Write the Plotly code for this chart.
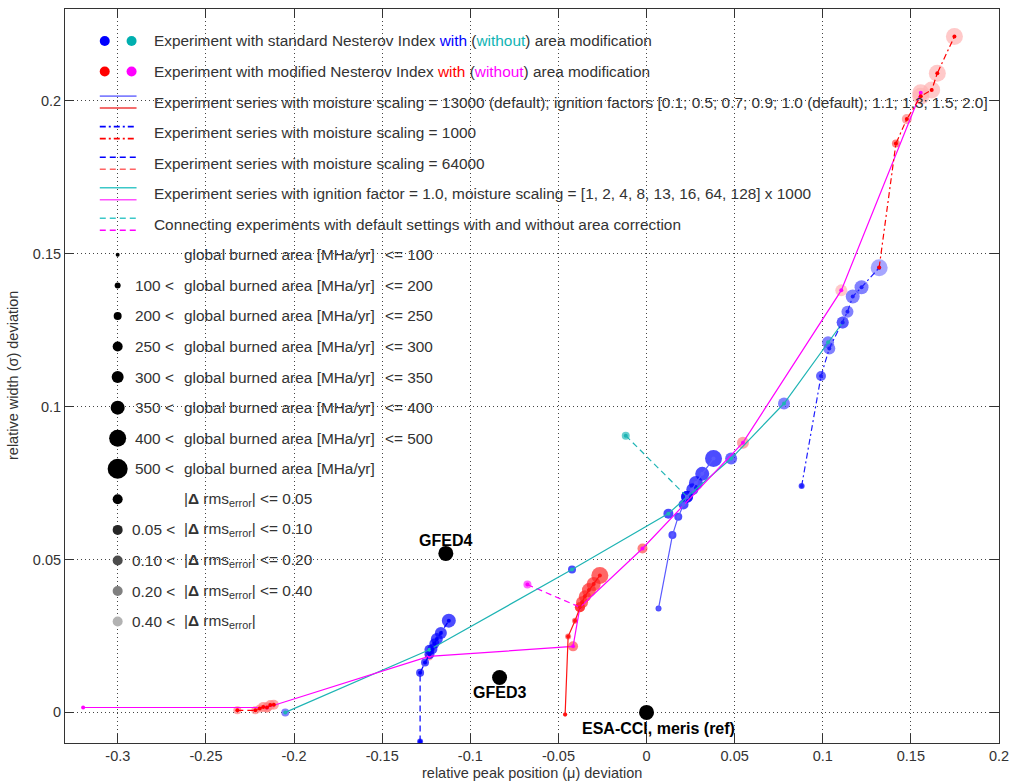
import plotly.graph_objects as go

# ---------------- data ----------------
# size category index -> global burned area class; shade index -> |delta rms_error| class
SIZE_PX = [4, 6, 8, 10, 12, 14, 17, 20]
SHADE_ALPHA = [1.0, 0.85, 0.7, 0.5, 0.3]

# standard Nesterov index, with area modification (blue)
blue_ms13_x = [0.0068, 0.0147, 0.018, 0.021, 0.023, 0.026, 0.028, 0.0316, 0.038]
blue_ms13_y = [0.034, 0.058, 0.064, 0.068, 0.0705, 0.073, 0.075, 0.078, 0.083]
blue_ms13_size = [1, 2, 2, 3, 4, 4, 5, 5, 6]
blue_ms13_shade = [0, 0, 0, 0, 0, 0, 0, 0, 0]

blue_ms1_x = [0.088, 0.099, 0.1037, 0.1113, 0.114, 0.117, 0.122, 0.132]
blue_ms1_y = [0.074, 0.110, 0.119, 0.1275, 0.131, 0.136, 0.139, 0.1454]
blue_ms1_size = [1, 3, 4, 4, 4, 5, 5, 6]
blue_ms1_shade = [0, 1, 2, 2, 2, 2, 2, 3]

blue_ms64_x = [-0.1285, -0.1285, -0.1257, -0.1232, -0.1215, -0.1204, -0.119, -0.1167, -0.1122]
blue_ms64_y = [-0.0095, 0.013, 0.0163, 0.019, 0.0207, 0.0225, 0.024, 0.026, 0.030]
blue_ms64_size = [1, 2, 2, 3, 3, 3, 4, 4, 5]
blue_ms64_shade = [0, 0, 0, 0, 0, 0, 0, 0, 0]

blue_ign1_x = [-0.205, -0.1232, -0.0423, 0.0124, 0.023, 0.048, 0.078, 0.103, 0.1113]
blue_ign1_y = [0.0, 0.0205, 0.0467, 0.065, 0.0705, 0.083, 0.101, 0.121, 0.1275]
blue_ign1_size = [2, 3, 2, 3, 4, 4, 4, 4, 4]
blue_ign1_shade = [2, 0, 0, 0, 0, 1, 2, 2, 2]

# modified Nesterov index, with area modification (red)
red_ms13_x = [-0.0462, -0.0445, -0.0406, -0.0378, -0.0366, -0.035, -0.0327, -0.030, -0.0265]
red_ms13_y = [-0.0007, 0.0248, 0.030, 0.0344, 0.036, 0.038, 0.040, 0.042, 0.0448]
red_ms13_size = [0, 1, 1, 3, 4, 4, 5, 5, 6]
red_ms13_shade = [1, 2, 2, 1, 1, 1, 1, 1, 1]

red_ms1_x = [0.132, 0.1415, 0.1477, 0.1556, 0.1618, 0.165, 0.1747]
red_ms1_y = [0.1455, 0.186, 0.194, 0.2015, 0.2035, 0.209, 0.221]
red_ms1_size = [0, 2, 3, 6, 6, 6, 6]
red_ms1_shade = [1, 2, 3, 4, 4, 4, 4]

red_ms64_x = [-0.2322, -0.222, -0.2195, -0.2175, -0.2154, -0.2135, -0.2115]
red_ms64_y = [0.0007, 0.0007, 0.0013, 0.0018, 0.0016, 0.0024, 0.0025]
red_ms64_size = [2, 2, 2, 3, 3, 3, 3]
red_ms64_shade = [3, 3, 3, 3, 3, 3, 3]

red_ign1_x = [-0.3197, -0.2154, -0.1235, -0.0417, -0.0378, -0.0023, 0.0547, 0.1105, 0.1556]
red_ign1_y = [0.0016, 0.0016, 0.0183, 0.0216, 0.0344, 0.0536, 0.0882, 0.138, 0.2026]
red_ign1_size = [None, 3, 2, 3, 3, 3, 4, 4, 6]
red_ign1_shade = [None, 3, 3, 2, 1, 2, 3, 4, 4]

# experiments without area modification (default settings)
cyan_x = [-0.0118]
cyan_y = [0.0905]
magenta_x = [-0.0676]
magenta_y = [0.0418]

# connecting default settings with/without area correction
conn_cyan_x = [-0.0118, 0.023]
conn_cyan_y = [0.0905, 0.0705]
conn_magenta_x = [-0.0676, -0.0378]
conn_magenta_y = [0.0418, 0.0344]

# reference data sets
ref_names = ["GFED4", "GFED3", "ESA-CCI, meris (ref)"]
ref_x = [-0.1139, -0.0834, 0.0]
ref_y = [0.052, 0.0114, 0.0]

x_ticks = [-0.3, -0.25, -0.2, -0.15, -0.1, -0.05, 0, 0.05, 0.1, 0.15, 0.2]
x_ticktext = ["-0.3", "-0.25", "-0.2", "-0.15", "-0.1", "-0.05", "0", "0.05", "0.1", "0.15", "0.2"]
y_ticks = [0, 0.05, 0.1, 0.15, 0.2]
y_ticktext = ["0", "0.05", "0.1", "0.15", "0.2"]

size_labels_left = ["", "100 <", "200 <", "250 <", "300 <", "350 <", "400 <", "500 <"]
size_labels_right = ["<= 100", "<= 200", "<= 250", "<= 300", "<= 350", "<= 400", "<= 500", ""]
rms_labels_left = ["", "0.05 <", "0.10 <", "0.20 <", "0.40 <"]
rms_labels_right = ["<= 0.05", "<= 0.10", "<= 0.20", "<= 0.40", ""]

# ---------------- styling helpers ----------------
BLUE = (0, 0, 255)
RED = (255, 0, 0)
CYAN = (0, 175, 175)
MAGENTA = (255, 0, 255)
BLACK = (0, 0, 0)
FONT = "Liberation Sans"
TXT = "#333333"
LEG_FS = 15.4


def mix(rgb, a):
    return "rgb(%d,%d,%d)" % tuple(round(255 - (255 - c) * a) for c in rgb)


fig = go.Figure()


def add_points(xs, ys, sizes, shades, base):
    px, py, ps, pc = [], [], [], []
    for x, y, s, h in zip(xs, ys, sizes, shades):
        if s is None:
            continue
        px.append(x); py.append(y)
        ps.append(SIZE_PX[s]); pc.append(mix(base, SHADE_ALPHA[h]))
    fig.add_trace(go.Scatter(x=px, y=py, mode="markers", hoverinfo="skip",
                             marker=dict(size=ps, color=pc, line=dict(width=0))))


def add_line(xs, ys, color, dash, width=1.2):
    fig.add_trace(go.Scatter(x=xs, y=ys, mode="lines+markers", hoverinfo="skip",
                             line=dict(color=color, dash=dash, width=width),
                             marker=dict(size=4, color=color)))


# experiment markers
add_points(red_ms64_x, red_ms64_y, red_ms64_size, red_ms64_shade, RED)
add_points(red_ign1_x, red_ign1_y, red_ign1_size, red_ign1_shade, RED)
add_points(red_ms13_x, red_ms13_y, red_ms13_size, red_ms13_shade, RED)
add_points(red_ms1_x, red_ms1_y, red_ms1_size, red_ms1_shade, RED)
add_points(blue_ign1_x, blue_ign1_y, blue_ign1_size, blue_ign1_shade, BLUE)
add_points(blue_ms64_x, blue_ms64_y, blue_ms64_size, blue_ms64_shade, BLUE)
add_points(blue_ms13_x, blue_ms13_y, blue_ms13_size, blue_ms13_shade, BLUE)
add_points(blue_ms1_x, blue_ms1_y, blue_ms1_size, blue_ms1_shade, BLUE)
add_points(cyan_x, cyan_y, [2], [1], CYAN)
add_points(magenta_x, magenta_y, [2], [1], MAGENTA)

# series lines
DASHDOT = "6px,3px,2px,3px"
DASHED = "6px,4px"
add_line(conn_cyan_x, conn_cyan_y, "rgb(30,180,180)", DASHED)
add_line(conn_magenta_x, conn_magenta_y, "rgb(255,0,255)", DASHED)
add_line(blue_ign1_x, blue_ign1_y, "rgb(30,180,180)", "solid")
add_line(red_ign1_x, red_ign1_y, "rgb(255,0,255)", "solid")
add_line(blue_ms13_x, blue_ms13_y, "rgb(90,90,255)", "solid")
add_line(red_ms13_x, red_ms13_y, "rgb(255,20,20)", "solid")
add_line(blue_ms1_x, blue_ms1_y, "rgb(30,30,255)", DASHDOT)
add_line(red_ms1_x, red_ms1_y, "rgb(255,0,0)", DASHDOT)
add_line(blue_ms64_x, blue_ms64_y, "rgb(0,0,255)", DASHED)
add_line(red_ms64_x, red_ms64_y, "rgb(255,0,0)", DASHED)

# reference points
fig.add_trace(go.Scatter(x=ref_x, y=ref_y, mode="markers", hoverinfo="skip",
                         marker=dict(size=15, color="black", line=dict(width=0))))
ref_shift = [(0, 13, "middle"), (0, -15, "middle"), (12, -16, "middle")]
for name, x, y, (dx, dy, ya) in zip(ref_names, ref_x, ref_y, ref_shift):
    fig.add_annotation(x=x, y=y, text="<b>%s</b>" % name, showarrow=False,
                       xshift=dx, yshift=dy, yanchor=ya,
                       font=dict(family=FONT, size=16, color="black"))

# ---------------- manual legend (pixel-space overlay axes) ----------------
LX = dict(xaxis="x2", yaxis="y2", hoverinfo="skip")


def legend_text(x, y, text, anchor="left"):
    fig.add_annotation(x=x, y=y, xref="x2", yref="y2", text=text, showarrow=False,
                       xanchor=anchor, yanchor="middle",
                       font=dict(family=FONT, size=LEG_FS, color=TXT))


row_y = [40 + 30.6 * i for i in range(20)]

# colour key rows
fig.add_trace(go.Scatter(x=[105, 132, 105, 132], y=[row_y[0], row_y[0], row_y[1], row_y[1]],
                         mode="markers", marker=dict(size=10, color=[mix(BLUE, 1), mix(CYAN, 1), mix(RED, 1), mix(MAGENTA, 1)]), **LX))
legend_text(153, row_y[0], "Experiment with standard Nesterov Index <span style='color:#0000ff'>with</span> (<span style='color:#10b4b4'>without</span>) area modification")
legend_text(153, row_y[1], "Experiment with modified Nesterov Index <span style='color:#ff0000'>with</span> (<span style='color:#ff00ff'>without</span>) area modification")

line_rows = [
    ("rgb(128,128,255)", "solid", "rgb(240,60,60)", "solid",
     "Experiment series with moisture scaling = 13000 (default); ignition factors [0.1; 0.5; 0.7; 0.9; 1.0 (default); 1.1; 1.3; 1.5; 2.0]"),
    ("rgb(0,0,255)", DASHDOT, "rgb(255,0,0)", DASHDOT, "Experiment series with moisture scaling = 1000"),
    ("rgb(0,0,255)", DASHED, "rgb(255,100,100)", DASHED, "Experiment series with moisture scaling = 64000"),
    ("rgb(60,200,200)", "solid", "rgb(255,80,255)", "solid",
     "Experiment series with ignition factor = 1.0, moisture scaling = [1, 2, 4, 8, 13, 16, 64, 128] x 1000"),
    ("rgb(60,200,200)", DASHED, "rgb(255,0,255)", DASHED, "Connecting experiments with default settings with and without area correction"),
]
for i, (c1, d1, c2, d2, txt) in enumerate(line_rows):
    yy = row_y[2 + i]
    fig.add_trace(go.Scatter(x=[100, 137], y=[yy - 6, yy - 6], mode="lines", line=dict(color=c1, dash=d1, width=1.6), **LX))
    fig.add_trace(go.Scatter(x=[100, 137], y=[yy + 6, yy + 6], mode="lines", line=dict(color=c2, dash=d2, width=1.6), **LX))
    legend_text(153, yy, txt)

# size key
for i in range(8):
    yy = row_y[7 + i]
    fig.add_trace(go.Scatter(x=[118], y=[yy], mode="markers", marker=dict(size=SIZE_PX[i], color="black"), **LX))
    if size_labels_left[i]:
        legend_text(177, yy, size_labels_left[i], "right")
    legend_text(183, yy, "global burned area [MHa/yr]")
    if size_labels_right[i]:
        legend_text(385, yy, size_labels_right[i])

# rms key
for i in range(5):
    yy = row_y[15 + i]
    fig.add_trace(go.Scatter(x=[118], y=[yy], mode="markers", marker=dict(size=10, color=mix(BLACK, SHADE_ALPHA[i])), **LX))
    if rms_labels_left[i]:
        legend_text(178, yy, rms_labels_left[i], "right")
    tail = (" " + rms_labels_right[i]) if rms_labels_right[i] else ""
    legend_text(183, yy, "|<b>Δ</b> rms<sub>error</sub>|" + tail)

# axis titles (paper coordinates, offset in pixels)
fig.add_annotation(x=0.5, y=0, xref="paper", yref="paper", yshift=-30, yanchor="middle",
                   text="relative peak position (μ) deviation",
                   showarrow=False, font=dict(family=FONT, size=14.5, color=TXT))
fig.add_annotation(x=0, y=0.5, xref="paper", yref="paper", xshift=-52, xanchor="center",
                   text="relative width (σ) deviation", textangle=-90,
                   showarrow=False, font=dict(family=FONT, size=14.5, color=TXT))

axis_common = dict(showline=True, linecolor="#333333", linewidth=1, mirror="ticks",
                   ticks="inside", ticklen=9, tickcolor="#333333", showgrid=True,
                   gridcolor="#444444", gridwidth=1, griddash="1px,3px", zeroline=False,
                   tickfont=dict(family=FONT, size=14.5, color=TXT))

fig.update_layout(
    width=1017, height=782, margin=dict(l=65, r=12, t=8, b=39),
    paper_bgcolor="white", plot_bgcolor="white", showlegend=False,
    xaxis=dict(range=[-0.33, 0.2], tickvals=x_ticks, ticktext=x_ticktext, **axis_common),
    yaxis=dict(range=[-0.01, 0.23], tickvals=y_ticks, ticktext=y_ticktext, **axis_common),
    xaxis2=dict(range=[65, 1005], overlaying="x", anchor="y2", visible=False),
    yaxis2=dict(range=[743, 8], overlaying="y", anchor="x2", visible=False),
)

fig.write_html("out.html")
